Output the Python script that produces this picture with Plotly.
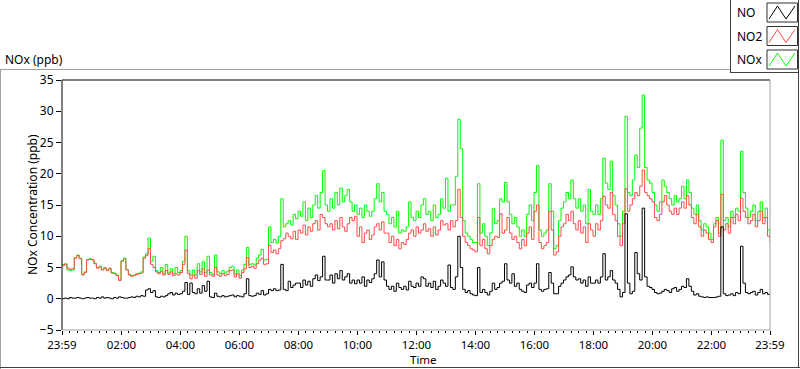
import plotly.graph_objects as go

# 5-minute readings, starting 23:59
NO2 = [
    5.3, 5.5, 4.9, 4.7, 4.8, 6.5, 6.9, 6.4, 3.8, 4.2, 6.2, 6.3,
    6.2, 5.6, 4.9, 5.1, 4.6, 4.9, 4.5, 4.8, 4.1, 4.0, 3.7, 2.9,
    6.0, 6.4, 4.6, 3.8, 3.6, 3.7, 3.9, 4.0, 4.1, 6.5, 6.9, 8.0,
    5.5, 5.0, 4.3, 4.0, 4.4, 3.8, 4.5, 3.9, 4.3, 3.7, 4.0, 3.8,
    4.2, 5.5, 7.8, 4.0, 3.2, 3.8, 3.3, 4.5, 3.9, 4.8, 3.6, 4.6,
    3.8, 3.6, 5.0, 3.8, 3.6, 4.0, 3.7, 3.9, 4.5, 4.6, 3.5, 4.0,
    3.3, 4.2, 4.8, 6.6, 5.0, 5.2, 4.9, 5.6, 6.2, 6.5, 5.5, 5.6,
    8.5, 7.4, 7.8, 7.2, 8.0, 9.3, 9.6, 10.5, 10.0, 9.6, 10.8, 9.5,
    11.0, 10.5, 11.8, 10.2, 11.5, 10.8, 12.0, 12.5, 11.0, 13.5, 13.0, 12.0,
    11.5, 12.0, 11.0, 12.5, 11.2, 13.0, 11.5, 10.8, 12.0, 13.0, 12.5, 13.2,
    10.0, 11.5, 9.0, 10.5, 11.0, 9.5, 10.2, 11.5, 12.0, 11.0, 12.3, 10.5,
    10.5, 9.0, 10.0, 8.5, 9.5, 8.0, 9.0, 8.7, 9.5, 10.5, 11.0, 10.0,
    11.5, 10.5, 11.0, 12.0, 10.8, 11.2, 10.0, 11.5, 10.2, 11.0, 12.5, 11.8,
    12.0, 11.0, 12.5, 11.5, 12.5, 17.5, 13.0, 10.0, 9.0, 8.5, 8.0, 7.8,
    7.5, 13.0, 8.5, 9.5, 8.0, 7.2, 8.5, 9.5, 10.0, 9.8, 13.6, 10.5,
    11.0, 13.0, 10.5, 9.5, 10.0, 9.0, 8.0, 9.5, 8.5, 10.5, 11.5, 9.5,
    14.0, 15.0, 9.0, 8.0, 8.5, 9.0, 14.0, 11.0, 7.0, 7.5, 10.0, 11.5,
    12.0, 13.5, 12.5, 14.0, 12.0, 11.0, 12.5, 10.5, 11.5, 9.0, 12.0, 11.0,
    10.0, 12.0, 11.0, 12.5, 16.4, 15.0, 14.5, 17.0, 13.5, 12.5, 10.0, 8.5,
    12.0, 17.6, 14.0, 15.0, 16.0, 17.0, 16.5, 18.0, 20.6, 17.0, 16.5, 16.0,
    15.5, 13.0, 12.5, 13.5, 15.5, 16.5, 15.0, 14.0, 13.5, 14.5, 13.5, 14.5,
    15.5, 14.5, 16.5, 15.0, 13.0, 12.0, 13.5, 11.5, 10.0, 11.0, 10.5, 9.5,
    9.0, 11.5, 12.5, 10.0, 16.7, 11.0, 12.0, 10.5, 13.0, 12.0, 13.5, 12.5,
    16.1, 14.0, 13.0, 12.0, 12.5, 13.5, 11.5, 12.5, 14.0, 12.0, 13.0, 10.0,
    9.0,
]

NOX = [
    5.5, 5.6, 4.6, 4.5, 4.6, 6.6, 7.0, 6.5, 3.9, 4.3, 6.3, 6.4,
    6.3, 5.7, 5.0, 5.2, 4.7, 5.0, 4.6, 4.9, 4.2, 4.1, 3.8, 3.0,
    6.1, 6.5, 4.7, 3.9, 3.7, 3.8, 4.0, 4.1, 4.3, 6.7, 7.2, 9.7,
    6.0, 6.8, 4.5, 4.2, 5.0, 4.0, 5.5, 4.1, 4.8, 4.0, 5.0, 4.2,
    4.5, 6.0, 10.0, 4.5, 3.8, 4.6, 3.8, 5.6, 4.3, 5.9, 4.2, 6.8,
    4.2, 3.9, 7.0, 4.3, 4.0, 4.5, 4.1, 4.4, 5.0, 5.2, 3.9, 4.6,
    3.7, 4.6, 5.5, 8.2, 5.5, 5.6, 5.4, 6.5, 7.0, 7.9, 6.2, 6.3,
    11.5, 9.0, 9.5, 8.9, 10.0, 16.0, 11.5, 12.0, 12.5, 11.8, 13.5, 12.8,
    14.0, 13.2, 15.5, 12.5, 14.5, 13.0, 15.0, 16.5, 14.5, 17.0, 20.5, 15.0,
    14.0, 16.0, 14.5, 17.0, 15.0, 17.7, 15.5, 16.5, 17.5, 15.5, 14.0, 15.0,
    13.5, 14.5, 13.0, 15.0, 14.0, 13.2, 14.0, 16.0, 18.4, 15.5, 17.0, 14.0,
    13.5, 12.0, 13.0, 11.5, 14.0, 10.5, 11.0, 10.8, 11.5, 15.5, 13.0, 12.5,
    14.0, 13.0, 15.0, 16.0, 13.5, 14.0, 12.5, 15.0, 13.0, 13.5, 16.0, 14.5,
    19.3, 14.0, 15.0, 15.0, 19.6, 28.7, 24.0, 12.5, 10.5, 10.0, 9.5, 9.0,
    9.0, 18.4, 10.5, 12.0, 10.0, 8.5, 10.5, 14.4, 12.0, 12.5, 16.0, 15.5,
    18.6, 15.5, 13.5, 12.0, 13.0, 11.5, 10.0, 11.0, 10.0, 13.5, 15.0, 12.5,
    17.0, 21.3, 11.0, 10.0, 10.5, 11.0, 18.4, 14.0, 8.0, 8.5, 12.5, 14.5,
    15.5, 17.0, 16.0, 19.0, 16.0, 14.5, 16.0, 14.0, 15.0, 12.0, 17.5, 14.0,
    13.5, 15.0, 13.5, 16.0, 22.5, 18.5, 17.5, 22.0, 16.5, 15.0, 12.0, 10.0,
    14.0, 29.2, 17.0, 16.5, 19.0, 23.0, 21.0, 27.3, 32.6, 21.0, 19.0, 18.5,
    17.0, 15.0, 14.0, 15.5, 19.0, 18.0, 17.0, 16.0, 15.0, 16.5, 15.5, 16.0,
    18.0, 16.0, 19.0, 17.0, 14.5, 13.5, 15.0, 12.5, 11.0, 12.0, 11.5, 10.5,
    9.5, 12.0, 13.0, 10.5, 25.4, 12.5, 13.0, 11.5, 14.0, 13.0, 14.5, 14.0,
    23.6, 17.0, 14.5, 13.0, 14.0, 15.0, 12.5, 14.0, 15.5, 13.0, 14.5, 11.0,
    9.8,
]

NO = [
    0.0, 0.1, 0.0, 0.2, 0.1, 0.1, 0.2, 0.1, 0.0, 0.1, 0.2, 0.1,
    0.1, 0.0, 0.2, 0.1, 0.3, 0.1, 0.2, 0.1, 0.0, 0.2, 0.1, 0.3,
    0.2, 0.1, 0.1, 0.2, 0.3, 0.2, 0.4, 0.3, 0.5, 0.4, 1.4, 1.6,
    1.0, 1.3, 0.3, 0.2, 0.4, 0.3, 0.5, 0.8, 1.0, 0.6, 0.9, 0.7,
    0.8, 1.2, 2.6, 0.7, 2.5, 1.0, 0.8, 1.6, 0.9, 2.1, 1.2, 2.8,
    0.3, 0.2, 0.9, 0.4, 0.3, 0.5, 0.3, 0.4, 0.5, 0.6, 0.3, 0.5,
    0.4, 0.3, 0.8, 3.2, 0.5, 0.4, 0.5, 0.9, 0.7, 1.3, 0.6, 0.8,
    1.5, 1.3, 1.6, 1.3, 1.4, 5.5, 1.5, 1.3, 2.8, 1.8, 2.2, 2.5,
    2.5, 1.8, 3.0, 2.2, 2.8, 2.0, 3.2, 3.8, 2.9, 3.5, 6.8, 3.0,
    3.0, 3.8, 2.5, 4.0, 3.2, 4.5, 3.0, 3.5, 4.0, 2.5, 3.0, 2.4,
    3.0, 2.5, 3.5, 2.0, 3.0, 2.6, 3.2, 4.0, 6.2, 3.5, 5.9, 3.0,
    2.0, 1.5, 2.0, 1.2, 2.5, 1.8, 1.5, 2.0, 1.4, 2.8, 2.0, 1.8,
    2.5, 2.0, 3.5, 3.2, 2.0, 2.5, 1.8, 2.8, 1.5, 2.0, 3.0, 2.5,
    2.0, 5.4, 1.8, 1.5, 3.5, 10.0, 5.0, 1.5, 1.0, 1.3, 0.8, 0.6,
    0.5, 5.0, 1.0, 1.5, 1.0, 0.6, 1.2, 2.5, 1.5, 1.8, 2.5, 2.8,
    5.6, 3.0, 2.5, 4.0, 2.0, 2.5, 1.5, 1.2, 1.0, 2.2, 2.5, 1.8,
    2.5, 5.6, 1.5, 1.2, 1.5, 1.6, 4.2, 2.5, 0.8, 0.8, 2.0, 2.5,
    3.0, 3.5, 3.8, 5.1, 3.5, 3.0, 3.2, 2.5, 3.0, 2.0, 3.5, 2.5,
    2.5, 3.0, 2.5, 3.5, 7.2, 3.0, 3.5, 4.5, 3.0, 2.5, 1.5, 0.3,
    1.0, 13.6, 2.5, 0.8, 1.2, 7.4, 4.0, 3.0, 14.5, 3.5, 2.0, 1.8,
    1.5, 1.0, 0.8, 0.9, 1.2, 1.5, 1.3, 1.0, 1.6, 1.8, 1.2, 1.5,
    2.0, 1.8, 3.2, 2.0, 1.2, 0.6, 0.8, 0.4, 0.3, 0.2, 0.3, 0.2,
    0.2, 0.2, 0.3, 0.4, 11.5, 0.8, 0.5, 0.6, 0.8, 0.5, 1.0, 0.8,
    8.4, 2.5, 1.0, 0.8, 1.0, 1.2, 0.6, 1.0, 1.5, 0.8, 1.0, 0.7,
    0.6,
]

STEP_MIN = 5
MINUTES = [-1 + STEP_MIN * i for i in range(len(NO2))]  # minutes after midnight (23:59 start)

TICK_VALS = [-1, 120, 240, 360, 480, 600, 720, 840, 960, 1080, 1200, 1320, 1439]
TICK_TEXT = ["23:59", "02:00", "04:00", "06:00", "08:00", "10:00", "12:00",
             "14:00", "16:00", "18:00", "20:00", "22:00", "23:59"]
Y_TICKS = [-5, 0, 5, 10, 15, 20, 25, 30, 35]

FONT = "Noto Sans"
W, H = 800, 369
L, R, T, B = 62, 30, 80, 39
PW, PH = W - L - R, H - T - B


def px(x):
    return (x - L) / PW


def py(y):
    return (H - B - y) / PH


fig = go.Figure()
fig.add_trace(go.Scatter(x=MINUTES, y=NOX, name="NOx", mode="lines",
                         line=dict(color="#00ff00", width=1, shape="hv")))
fig.add_trace(go.Scatter(x=MINUTES, y=NO2, name="NO2", mode="lines",
                         line=dict(color="#ff4b4b", width=1, shape="hv")))
fig.add_trace(go.Scatter(x=MINUTES, y=NO, name="NO", mode="lines",
                         line=dict(color="#000000", width=1, shape="hv")))

shapes = []


def line(x0, y0, x1, y1, color, width=1):
    shapes.append(dict(type="line", xref="paper", yref="paper",
                       x0=px(x0), y0=py(y0), x1=px(x1), y1=py(y1),
                       line=dict(color=color, width=width)))


# outer frame
line(0, 69.5, 730, 69.5, "#a0a0a0")
line(0.5, 69.5, 0.5, 369, "#a0a0a0")
line(0, 367.5, 800, 367.5, "#404040")
line(798.5, 72, 798.5, 368, "#404040")
# legend panel
line(730.5, 0, 730.5, 72.5, "#404040")
line(730, 72.5, 799, 72.5, "#404040")
line(798.5, 0, 798.5, 72.5, "#404040")
# plot area border
line(L, T, L + PW, T, "#000000")
line(L, T, L, T + PH, "#000000")
line(L + PW, T, L + PW, T + PH, "#a0a0a0")
line(L, T + PH, L + PW, T + PH, "#a0a0a0")

annotations = []
legend_items = [("NO", "#000000"), ("NO2", "#ff4b4b"), ("NOx", "#00ff00")]
for i, (name, col) in enumerate(legend_items):
    top = 3 + i * 23.5
    bot = top + 19
    shapes.append(dict(type="rect", xref="paper", yref="paper",
                       x0=px(767), x1=px(797.5), y0=py(top), y1=py(bot),
                       line=dict(color="#303030", width=1), fillcolor="white"))
    pts = [(769, bot - 3), (777.5, top + 3), (786, bot - 3), (795, top + 3)]
    path = "M " + " L ".join(f"{px(a)},{py(b)}" for a, b in pts)
    shapes.append(dict(type="path", xref="paper", yref="paper", path=path,
                       line=dict(color=col, width=1)))
    annotations.append(dict(text=name, xref="paper", yref="paper",
                            x=px(735), y=py((top + bot) / 2), xanchor="left",
                            yanchor="middle", showarrow=False,
                            font=dict(family=FONT, size=12, color="#000")))

annotations.append(dict(text="NOx (ppb)", xref="paper", yref="paper",
                        x=px(3), y=py(60), xanchor="left", yanchor="middle",
                        showarrow=False, font=dict(family=FONT, size=12, color="#000")))
annotations.append(dict(text="NOx Concentration (ppb)", xref="paper", yref="paper",
                        x=px(32), y=py(205), textangle=-90, xanchor="center",
                        yanchor="middle", showarrow=False,
                        font=dict(family=FONT, size=12, color="#000")))
annotations.append(dict(text="Time", xref="paper", yref="paper",
                        x=px(423), y=py(359), xanchor="center", yanchor="middle",
                        showarrow=False, font=dict(family=FONT, size=11.5, color="#000")))

fig.update_layout(
    width=W, height=H,
    margin=dict(l=L, r=R, t=T, b=B, pad=0),
    paper_bgcolor="white", plot_bgcolor="white",
    showlegend=False,
    font=dict(family=FONT, size=12, color="#000"),
    shapes=shapes, annotations=annotations,
    xaxis=dict(range=[MINUTES[0], MINUTES[-1]], tickmode="array",
               tickvals=TICK_VALS, ticktext=TICK_TEXT, ticks="outside",
               ticklen=4, tickcolor="#000", showgrid=False, zeroline=False,
               showline=False, tickfont=dict(family=FONT, size=11.5),
               minor=dict(tickmode="linear", tick0=0, dtick=15,
                          ticks="outside", ticklen=2, tickcolor="#000",
                          showgrid=False)),
    yaxis=dict(range=[-5, 35], tickmode="array", tickvals=Y_TICKS,
               ticks="outside", ticklen=5, tickcolor="#000", showgrid=False,
               zeroline=False, showline=False,
               tickfont=dict(family=FONT, size=12)),
)

fig.write_html("out.html", config={"displayModeBar": False},
               post_script="document.body.style.margin='0';document.body.style.overflow='hidden';")
